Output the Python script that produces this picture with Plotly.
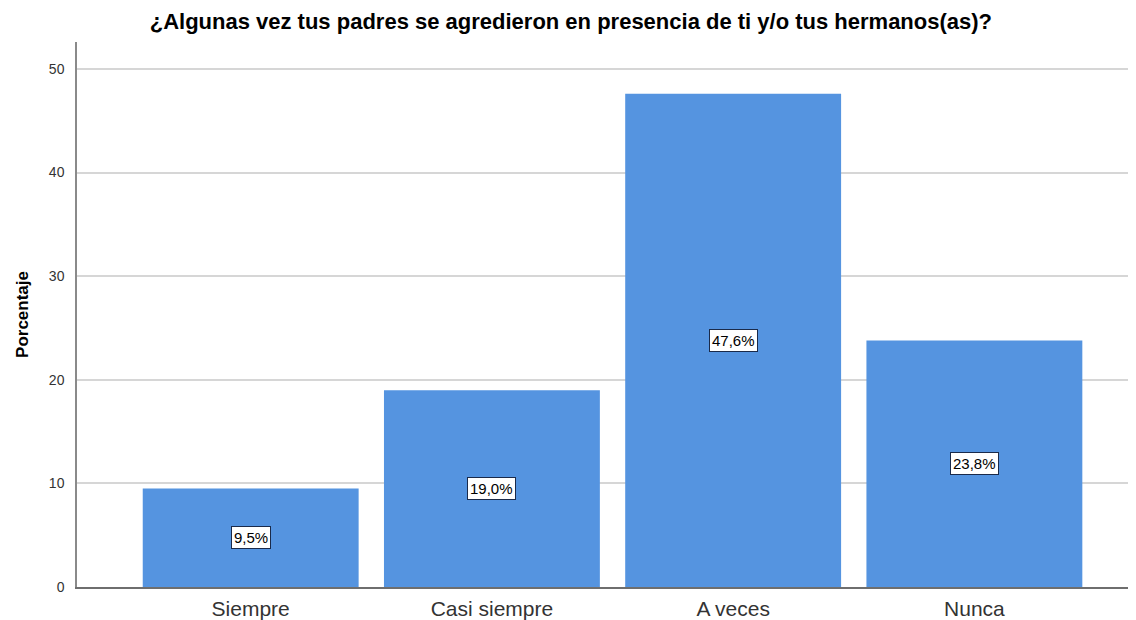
import plotly.graph_objects as go

categories = ["Siempre", "Casi siempre", "A veces", "Nunca"]
values = [9.5, 19.0, 47.6, 23.8]
labels = ["9,5%", "19,0%", "47,6%", "23,8%"]
y_ticks = [0, 10, 20, 30, 40, 50]

FONT = "Liberation Sans, Arial"

fig = go.Figure()
fig.add_trace(go.Bar(
    x=categories, y=values, width=0.895,
    marker=dict(color="#5594e0", line=dict(width=0)),
    hoverinfo="skip",
))

for c, v, t in zip(categories, values, labels):
    fig.add_annotation(
        x=c, y=v / 2, text=t, showarrow=False,
        font=dict(family=FONT, size=15, color="#000000"),
        bgcolor="#ffffff", bordercolor="#1a2a4a", borderwidth=1, borderpad=2,
    )

fig.update_layout(
    width=1128, height=612,
    margin=dict(l=69, r=0, t=34, b=33),
    paper_bgcolor="#ffffff", plot_bgcolor="#ffffff",
    showlegend=False,
    title=dict(
        text="<b>¿Algunas vez tus padres se agredieron en presencia de ti y/o tus hermanos(as)?</b>",
        x=0.499, xanchor="center", y=0.979, yanchor="middle",
        font=dict(family=FONT, size=22, color="#000000"),
    ),
    xaxis=dict(
        type="category", range=[-0.72, 3.67],
        showline=True, linecolor="#6e6e6e", linewidth=1.5,
        showgrid=False, ticks="outside", ticklen=2, tickcolor="rgba(0,0,0,0)",
        tickfont=dict(family=FONT, size=21, color="#333333"),
    ),
    yaxis=dict(
        range=[0, 52.6], tickvals=y_ticks,
        showline=True, linecolor="#8a8a8a", linewidth=1.5,
        showgrid=True, gridcolor="#d6d6d6", gridwidth=1.5,
        zeroline=False, ticks="outside", ticklen=8, tickcolor="rgba(0,0,0,0)",
        tickfont=dict(family=FONT, size=14, color="#333333"),
        title=dict(text="<b>Porcentaje</b>", standoff=16,
                   font=dict(family=FONT, size=17, color="#000000")),
    ),
)

fig.write_html("out.html")
